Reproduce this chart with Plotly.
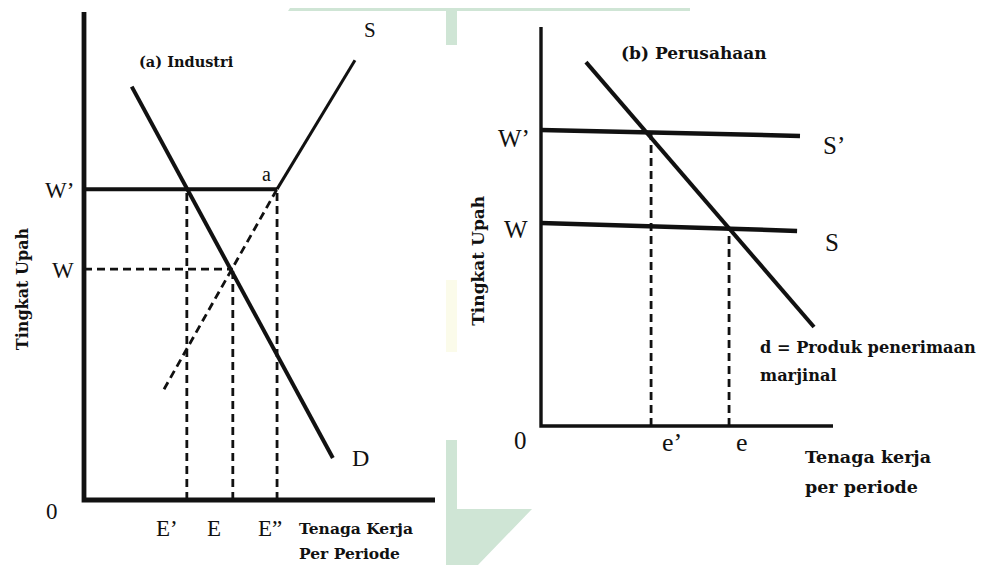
import plotly.graph_objects as go

# ---------------- data: panel (a) Industri ----------------
a_e_labels = ["E’", "E", "E”"]
a_e_vals = [29.3, 42.4, 55.0]          # E', E, E''
a_w_labels = ["W’", "W"]
a_w_vals = [63.7, 47.3]                # W', W
a_demand_x = [13.6, 70.9]
a_demand_y = [84.7, 8.6]
a_supply_x = [55.0, 77.2]              # solid S above point a
a_supply_y = [63.7, 90.1]
a_supply_dash_x = [22.8, 55.0]         # dashed original supply
a_supply_dash_y = [22.7, 63.7]

# ---------------- data: panel (b) Perusahaan ----------------
b_e_labels = ["e’", "e"]
b_e_vals = [37.7, 64.4]
b_wp_x = [0.0, 88.7]                   # S' (at W')
b_wp_y = [74.2, 72.7]
b_w_x = [0.0, 87.7]                    # S (at W)
b_w_y = [50.9, 48.9]
b_demand_x = [15.4, 93.5]
b_demand_y = [91.2, 24.8]

# ---------------- layout geometry (page pixels) ----------------
W_PX, H_PX = 992, 565
OFF = 8                                # page body margin
A_OX, A_OY, A_SX, A_SY = 84, 500, 3.51, 4.88
A_XR, A_YR = [-20, 105], [-12, 100]
B_OX, B_OY, B_SX, B_SY = 541, 426, 2.92, 3.99
B_XR, B_YR = [-8, 152], [-25, 103]


def xdom(ox, sx, r):
    return [(ox + r[0] * sx - OFF) / W_PX, (ox + r[1] * sx - OFF) / W_PX]


def ydom(oy, sy, r):
    return [1 - (oy - r[0] * sy - OFF) / H_PX, 1 - (oy - r[1] * sy - OFF) / H_PX]


def interp(x, xs, ys):
    return ys[0] + (ys[1] - ys[0]) * (x - xs[0]) / (xs[1] - xs[0])


INK = "#111111"
DASH = "8px,5px"
SERIF = "Liberation Serif"
BOLDF = "DejaVu Serif"

fig = go.Figure()


def line(xs, ys, w, dash=None, ax="x", ay="y"):
    fig.add_trace(go.Scatter(
        x=xs, y=ys, mode="lines", xaxis=ax, yaxis=ay, hoverinfo="skip",
        line=dict(color=INK, width=w, dash=dash), showlegend=False))


# ---- panel a ----
E1, E0, E2 = a_e_vals
WP, W0 = a_w_vals
line([0, 0, 100], [100, 0, 0], 4.8)
line([0, a_supply_x[0]], [WP, WP], 4)
line(a_supply_x, a_supply_y, 3)
line(a_supply_dash_x, a_supply_dash_y, 2.8, DASH)
line([0, E0], [W0, W0], 2.8, DASH)
line([E1, E1], [0, WP], 2.8, DASH)
line([E0, E0], [0, W0], 2.8, DASH)
line([E2, E2], [0, WP], 2.8, DASH)
line(a_demand_x, a_demand_y, 4)

# ---- panel b ----
line([0, 0, 100], [100, 0, 0], 3.4, ax="x2", ay="y2")
line(b_wp_x, b_wp_y, 4.5, ax="x2", ay="y2")
line(b_w_x, b_w_y, 4.5, ax="x2", ay="y2")
e1, e0 = b_e_vals
line([e1, e1], [0, interp(e1, b_wp_x, b_wp_y)], 2.8, DASH, "x2", "y2")
line([e0, e0], [0, interp(e0, b_w_x, b_w_y)], 2.8, DASH, "x2", "y2")
line(b_demand_x, b_demand_y, 4, ax="x2", ay="y2")

ann = []


def text(t, x, y, size, xr="x", yr="y", bold=False, xa="center", ya="middle",
         xs=0, ys=0, angle=0):
    fam = SERIF
    if bold:
        t = "<b>" + t + "</b>"
        fam = BOLDF
    ann.append(dict(text=t, x=x, y=y, xref=xr, yref=yr, showarrow=False,
                    xanchor=xa, yanchor=ya, xshift=xs, yshift=ys,
                    textangle=angle, align="left",
                    font=dict(family=fam, size=size, color=INK)))


# panel a labels
text("(a) Industri", 15.1, 89.8, 14.5, bold=True, xa="left")
text("S", a_supply_x[1] + 4.3, a_supply_y[1] + 6.2, 21)
text("a", a_supply_x[0] - 3, a_supply_y[0], 20, ys=15)
text("D", a_demand_x[1] + 8, a_demand_y[1], 24)
for lab, v in zip(a_w_labels, a_w_vals):
    text(lab, 0, v, 23, xa="right", xs=-8, ys=-1)
text("0", 0, 0, 23, xa="right", ya="top", xs=-24, ys=3)
for lab, v, dx in zip(a_e_labels, a_e_vals, [-20, -19, -7]):
    text(lab, v, 0, 23, ya="top", xs=dx, ys=-14)
text("Tenaga Kerja", 60.7, 0, 15.5, bold=True, xa="left", ys=-28)
text("Per Periode", 60.7, 0, 15.5, bold=True, xa="left", ys=-53)
text("Tingkat Upah", 0, 43.2, 16, bold=True, xs=-62, angle=-90)

# panel b labels
text("(b) Perusahaan", 52.4, 93.5, 17, xr="x2", yr="y2", bold=True)
text("S’", b_wp_x[1] + 11.8, b_wp_y[1] - 2.3, 25, xr="x2", yr="y2")
text("S", b_w_x[1] + 11.8, b_w_y[1] - 3.0, 25, xr="x2", yr="y2")
text("W’", 0, b_wp_y[0], 25, xr="x2", yr="y2", xa="right", xs=-9, ys=-9)
text("W", 0, b_w_y[0], 25, xr="x2", yr="y2", xa="right", xs=-11, ys=-7)
text("0", 0, 0, 25, xr="x2", yr="y2", xa="right", ya="top", xs=-12, ys=1)
for lab, v, dx in zip(b_e_labels, b_e_vals, [21, 13]):
    text(lab, v, 0, 26, xr="x2", yr="y2", ya="top", xs=dx, ys=0)
text("d = Produk penerimaan", 74.3, 0, 16.2, xr="x2", yr="y2", bold=True,
     xa="left", ys=79)
text("marjinal", 74.3, 0, 16.2, xr="x2", yr="y2", bold=True, xa="left", ys=51)
text("Tenaga kerja", 89.7, 0, 17.5, xr="x2", yr="y2", bold=True, xa="left", ys=-31)
text("per periode", 89.7, 0, 17.5, xr="x2", yr="y2", bold=True, xa="left", ys=-61)
text("Tingkat Upah", 0, 41.4, 17, xr="x2", yr="y2", bold=True, xs=-63, angle=-90)


def P(x, y):
    return (x - OFF) / W_PX, 1 - (y - OFF) / H_PX


def poly(pts, color):
    path = "M " + " L ".join("%.5f,%.5f" % P(x, y) for x, y in pts) + " Z"
    return dict(type="path", path=path, xref="paper", yref="paper",
                fillcolor=color, line=dict(width=0), layer="below")


GREEN = "#cfe5d5"
shapes = [
    poly([(290, 8), (690, 8), (690, 11), (288, 11)], GREEN),
    poly([(446, 8), (457, 8), (457, 45), (446, 45)], GREEN),
    poly([(446, 440), (457, 440), (457, 509), (532, 509), (478, 565), (446, 565)], GREEN),
    poly([(446, 280), (457, 280), (457, 352), (446, 352)], "#fbfbea"),
]

ax_common = dict(visible=False, fixedrange=True)
fig.update_layout(
    width=W_PX, height=H_PX, margin=dict(l=0, r=0, t=0, b=0),
    paper_bgcolor="white", plot_bgcolor="rgba(0,0,0,0)",
    xaxis=dict(domain=xdom(A_OX, A_SX, A_XR), range=A_XR, **ax_common),
    yaxis=dict(domain=ydom(A_OY, A_SY, A_YR), range=A_YR, **ax_common),
    xaxis2=dict(domain=xdom(B_OX, B_SX, B_XR), range=B_XR, anchor="y2", **ax_common),
    yaxis2=dict(domain=ydom(B_OY, B_SY, B_YR), range=B_YR, anchor="x2", **ax_common),
    annotations=ann, shapes=shapes, showlegend=False,
)

fig.write_html("out.html")
